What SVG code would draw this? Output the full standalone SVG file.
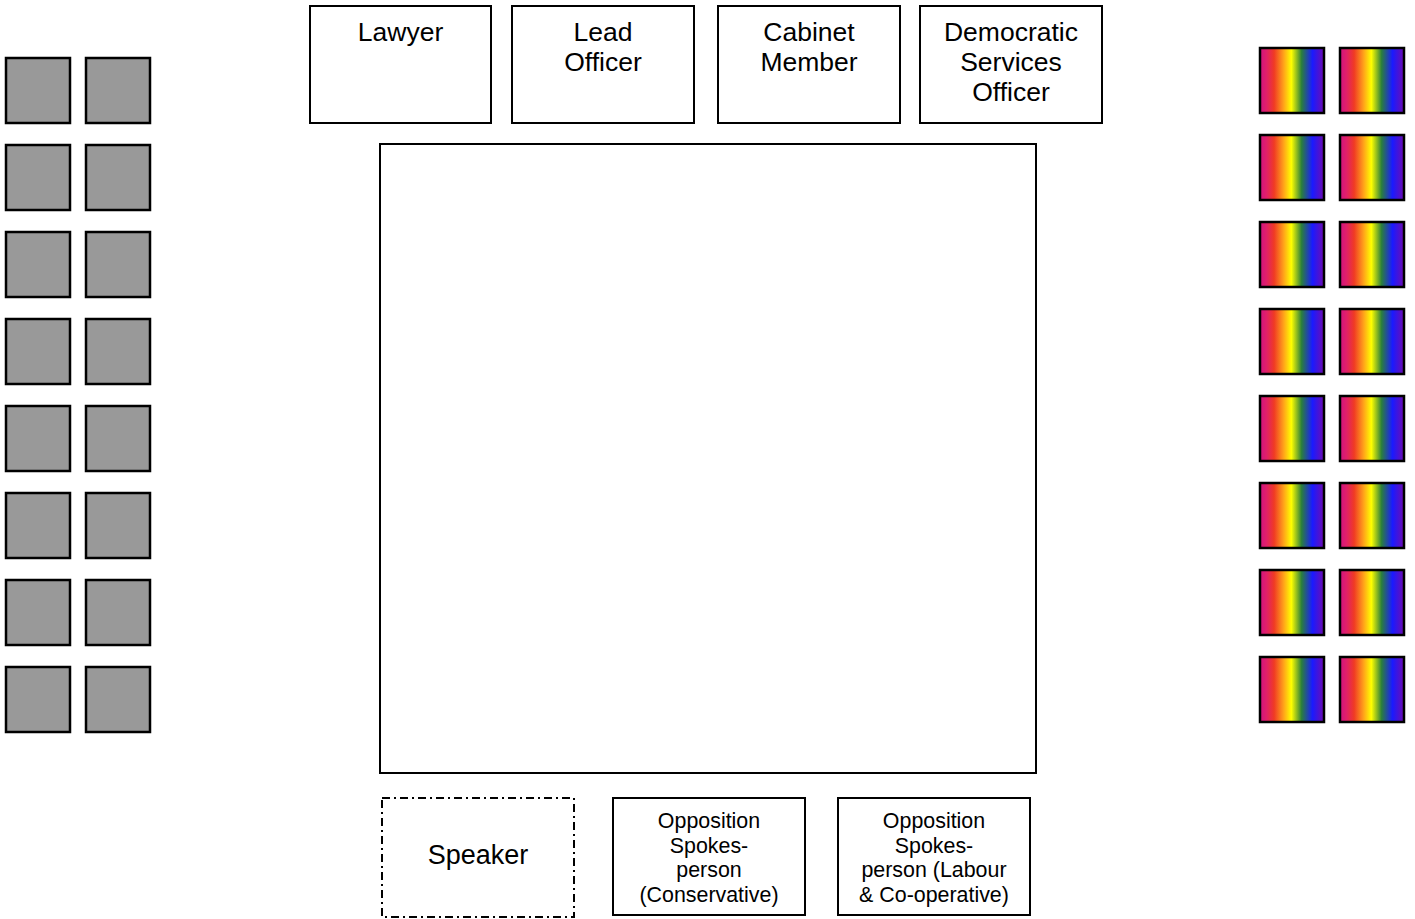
<svg xmlns="http://www.w3.org/2000/svg" width="1415" height="919" viewBox="0 0 1415 919">
<style>
.box{fill:#fff;stroke:#000;stroke-width:2}
.grey{fill:#999;stroke:#000;stroke-width:2.5}
.rb{fill:url(#rainbow);stroke:#000;stroke-width:2.5}
.big{font-family:"Liberation Sans",Arial,sans-serif;font-size:26.5px;fill:#000;text-anchor:middle}
.sp{font-family:"Liberation Sans",Arial,sans-serif;font-size:27px;fill:#000;text-anchor:middle}
.sm{font-family:"Liberation Sans",Arial,sans-serif;font-size:21.4px;fill:#000;text-anchor:middle}
</style>
<defs>
<linearGradient id="rainbow" x1="0" y1="0" x2="1" y2="0">
<stop offset="0" stop-color="#d0127f"/>
<stop offset="0.1" stop-color="#e0206a"/>
<stop offset="0.22" stop-color="#f03a24"/>
<stop offset="0.37" stop-color="#ffa31a"/>
<stop offset="0.49" stop-color="#ffff00"/>
<stop offset="0.65" stop-color="#2a7f3c"/>
<stop offset="0.82" stop-color="#1a1aff"/>
<stop offset="1" stop-color="#700cb0"/>
</linearGradient>
</defs>
<g id="connectors"/>
<g id="lawyer"><rect class="box" x="310" y="6" width="181" height="117"/><text class="big" x="400.5" y="41">Lawyer</text></g>
<g id="lead-officer"><rect class="box" x="512" y="6" width="182" height="117"/><text class="big" x="603" y="41">Lead</text><text class="big" x="603" y="71">Officer</text></g>
<g id="cabinet-member"><rect class="box" x="718" y="6" width="182" height="117"/><text class="big" x="809" y="41">Cabinet</text><text class="big" x="809" y="71">Member</text></g>
<g id="dso"><rect class="box" x="920" y="6" width="182" height="117"/><text class="big" x="1011" y="41">Democratic</text><text class="big" x="1011" y="71">Services</text><text class="big" x="1011" y="101">Officer</text></g>
<g id="table"><rect class="box" x="380" y="144" width="656" height="629"/></g>
<g id="speaker"><rect x="382" y="798" width="192" height="119" fill="#fff" stroke="#000" stroke-width="2" stroke-dasharray="8 4 2 4"/><text class="sp" x="478" y="864">Speaker</text></g>
<g id="opp-con"><rect class="box" x="613" y="798" width="192" height="117"/><text class="sm" x="709" y="828">Opposition</text><text class="sm" x="709" y="853">Spokes-</text><text class="sm" x="709" y="877">person</text><text class="sm" x="709" y="902">(Conservative)</text></g>
<g id="opp-lab"><rect class="box" x="838" y="798" width="192" height="117"/><text class="sm" x="934" y="828">Opposition</text><text class="sm" x="934" y="853">Spokes-</text><text class="sm" x="934" y="877">person (Labour</text><text class="sm" x="934" y="902">&amp; Co-operative)</text></g>
<g id="grey-seats">
<rect class="grey" x="6" y="58" width="64" height="65"/><rect class="grey" x="86" y="58" width="64" height="65"/>
<rect class="grey" x="6" y="145" width="64" height="65"/><rect class="grey" x="86" y="145" width="64" height="65"/>
<rect class="grey" x="6" y="232" width="64" height="65"/><rect class="grey" x="86" y="232" width="64" height="65"/>
<rect class="grey" x="6" y="319" width="64" height="65"/><rect class="grey" x="86" y="319" width="64" height="65"/>
<rect class="grey" x="6" y="406" width="64" height="65"/><rect class="grey" x="86" y="406" width="64" height="65"/>
<rect class="grey" x="6" y="493" width="64" height="65"/><rect class="grey" x="86" y="493" width="64" height="65"/>
<rect class="grey" x="6" y="580" width="64" height="65"/><rect class="grey" x="86" y="580" width="64" height="65"/>
<rect class="grey" x="6" y="667" width="64" height="65"/><rect class="grey" x="86" y="667" width="64" height="65"/>
</g>
<g id="rainbow-seats">
<rect class="rb" x="1260" y="48" width="64" height="65"/><rect class="rb" x="1340" y="48" width="64" height="65"/>
<rect class="rb" x="1260" y="135" width="64" height="65"/><rect class="rb" x="1340" y="135" width="64" height="65"/>
<rect class="rb" x="1260" y="222" width="64" height="65"/><rect class="rb" x="1340" y="222" width="64" height="65"/>
<rect class="rb" x="1260" y="309" width="64" height="65"/><rect class="rb" x="1340" y="309" width="64" height="65"/>
<rect class="rb" x="1260" y="396" width="64" height="65"/><rect class="rb" x="1340" y="396" width="64" height="65"/>
<rect class="rb" x="1260" y="483" width="64" height="65"/><rect class="rb" x="1340" y="483" width="64" height="65"/>
<rect class="rb" x="1260" y="570" width="64" height="65"/><rect class="rb" x="1340" y="570" width="64" height="65"/>
<rect class="rb" x="1260" y="657" width="64" height="65"/><rect class="rb" x="1340" y="657" width="64" height="65"/>
</g>
</svg>
